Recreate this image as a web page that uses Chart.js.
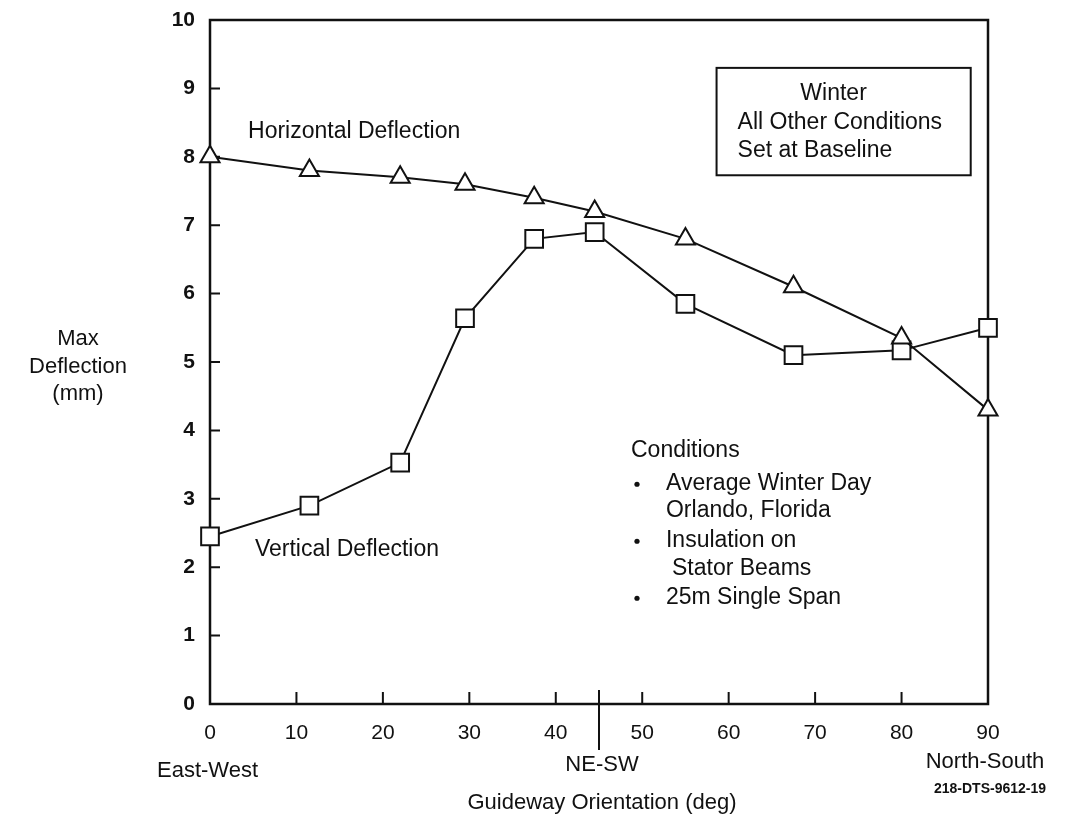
<!DOCTYPE html>
<html>
<head>
<meta charset="utf-8">
<script src="https://cdn.jsdelivr.net/npm/chart.js@4.4.1/dist/chart.umd.min.js"></script>
<style>
  html, body { margin: 0; padding: 0; background: #fff; }
  #wrap { width: 1070px; height: 817px; position: relative; }
</style>
</head>
<body>
<div id="wrap"><canvas id="c" width="1070" height="817"></canvas></div>
<script>
// ---- data ----
const orientationDeg = [0, 11.5, 22, 29.5, 37.5, 44.5, 55, 67.5, 80, 90];
const horizontalDeflection = [8.0, 7.8, 7.7, 7.6, 7.4, 7.2, 6.8, 6.1, 5.35, 4.3];
const verticalDeflection = [2.45, 2.9, 3.53, 5.64, 6.8, 6.9, 5.85, 5.1, 5.17, 5.5];
const xTicks = [0, 10, 20, 30, 40, 50, 60, 70, 80, 90];
const yTicks = [0, 1, 2, 3, 4, 5, 6, 7, 8, 9, 10];
const seriesLabels = ['Horizontal Deflection', 'Vertical Deflection'];
const boxLines = ['Winter', 'All Other Conditions', 'Set at Baseline'];
const conditionLines = ['Average Winter Day', 'Orlando, Florida', 'Insulation on', 'Stator Beams', '25m Single Span'];
const yTitleLines = ['Max', 'Deflection', '(mm)'];
const xTitle = 'Guideway Orientation (deg)';
const xDirLabels = ['East-West', 'NE-SW', 'North-South'];
const figId = '218-DTS-9612-19';

const FONT = '"Liberation Sans", Arial, Helvetica, sans-serif';
const INK = '#111';

const toXY = (xs, ys) => xs.map((x, i) => ({ x: x, y: ys[i] }));

const decorPlugin = {
  id: 'decor',
  beforeDatasetsDraw(chart) {
    const ctx = chart.ctx, a = chart.chartArea;
    const xs = chart.scales.x, ys = chart.scales.y;
    ctx.save();
    ctx.strokeStyle = INK;
    ctx.lineWidth = 2.5;
    ctx.strokeRect(a.left, a.top, a.right - a.left, a.bottom - a.top);
    // inward ticks
    ctx.lineWidth = 2;
    ctx.beginPath();
    yTicks.forEach(v => {
      if (v === 0 || v === 10) return;
      const py = ys.getPixelForValue(v);
      ctx.moveTo(a.left, py); ctx.lineTo(a.left + 10, py);
    });
    xTicks.forEach(v => {
      if (v === 0 || v === 90) return;
      const px = xs.getPixelForValue(v);
      ctx.moveTo(px, a.bottom); ctx.lineTo(px, a.bottom - 12);
    });
    // NE-SW marker line at 45 deg
    const p45 = xs.getPixelForValue(45);
    ctx.moveTo(p45, a.bottom - 14); ctx.lineTo(p45, a.bottom + 46);
    ctx.stroke();
    ctx.restore();
  },
  afterDraw(chart) {
    const ctx = chart.ctx, a = chart.chartArea;
    const xs = chart.scales.x, ys = chart.scales.y;
    ctx.save();
    ctx.fillStyle = INK;
    ctx.strokeStyle = INK;
    ctx.textBaseline = 'middle';
    ctx.font = '23px ' + FONT;

    // series labels
    ctx.textAlign = 'left';
    ctx.fillText(seriesLabels[0], xs.getPixelForValue(4.4), ys.getPixelForValue(8.37));
    ctx.fillText(seriesLabels[1], xs.getPixelForValue(5.2), ys.getPixelForValue(2.26));

    // boxed note
    const bx0 = xs.getPixelForValue(58.6), bx1 = xs.getPixelForValue(88.0);
    const by0 = ys.getPixelForValue(9.3), by1 = ys.getPixelForValue(7.73);
    ctx.lineWidth = 2;
    ctx.strokeRect(bx0, by0, bx1 - bx0, by1 - by0);
    ctx.textAlign = 'center';
    ctx.fillText(boxLines[0], bx0 + 117, by0 + 26);
    ctx.textAlign = 'left';
    ctx.fillText(boxLines[1], bx0 + 21, by0 + 55);
    ctx.fillText(boxLines[2], bx0 + 21, by0 + 83);

    // conditions block
    const cx = xs.getPixelForValue(48.7);
    const cy = ys.getPixelForValue(3.71);
    ctx.fillText('Conditions', cx, cy);
    const lineY = [33, 60, 90, 118, 147];
    const lineX = [35, 35, 35, 41, 35];
    [0, 2, 4].forEach(i => {
      ctx.beginPath();
      ctx.arc(cx + 6, cy + lineY[i] + 1, 2.6, 0, Math.PI * 2);
      ctx.fill();
    });
    conditionLines.forEach((t, i) => ctx.fillText(t, cx + lineX[i], cy + lineY[i]));

    // y title
    ctx.textAlign = 'center';
    ctx.font = '22px ' + FONT;
    yTitleLines.forEach((t, i) => ctx.fillText(t, 78, 339 + i * 27.5));

    // x direction labels and title
    ctx.textAlign = 'left';
    ctx.fillText(xDirLabels[0], 157, a.bottom + 67);
    ctx.textAlign = 'center';
    ctx.fillText(xDirLabels[1], xs.getPixelForValue(45) + 3, a.bottom + 61);
    ctx.fillText(xDirLabels[2], xs.getPixelForValue(90) - 3, a.bottom + 58);
    ctx.fillText(xTitle, xs.getPixelForValue(45) + 3, a.bottom + 99);
    ctx.font = 'bold 14px ' + FONT;
    ctx.fillText(figId, xs.getPixelForValue(90) + 2, a.bottom + 85);
    ctx.restore();
  }
};

new Chart(document.getElementById('c'), {
  type: 'line',
  data: {
    datasets: [
      {
        label: seriesLabels[0],
        data: toXY(orientationDeg, horizontalDeflection),
        borderColor: INK,
        borderWidth: 2,
        backgroundColor: '#fff',
        pointStyle: 'triangle',
        pointRadius: 11,
        pointBorderWidth: 2,
        pointBackgroundColor: '#fff',
        pointBorderColor: INK,
        tension: 0,
        clip: false
      },
      {
        label: seriesLabels[1],
        data: toXY(orientationDeg, verticalDeflection),
        borderColor: INK,
        borderWidth: 2,
        backgroundColor: '#fff',
        pointStyle: 'rect',
        pointRadius: 12.5,
        pointBorderWidth: 2,
        pointBackgroundColor: '#fff',
        pointBorderColor: INK,
        tension: 0,
        clip: false
      }
    ]
  },
  options: {
    responsive: false,
    animation: false,
    devicePixelRatio: 1,
    layout: { padding: { left: 0, right: 82, top: 20, bottom: 0 } },
    plugins: {
      legend: { display: false },
      tooltip: { enabled: false },
      title: { display: false }
    },
    scales: {
      x: {
        type: 'linear',
        min: 0, max: 90,
        afterFit(s) { s.height = 113; s.paddingLeft = 0; s.paddingRight = 0; },
        afterBuildTicks(s) { s.ticks = xTicks.map(v => ({ value: v })); },
        grid: { display: false, drawTicks: false },
        border: { display: false },
        ticks: { padding: 17, color: INK, font: { family: FONT, size: 21 }, maxRotation: 0, autoSkip: false }
      },
      y: {
        type: 'linear',
        min: 0, max: 10,
        afterFit(s) { s.width = 210; s.paddingTop = 0; s.paddingBottom = 0; },
        afterBuildTicks(s) { s.ticks = yTicks.map(v => ({ value: v })); },
        grid: { display: false, drawTicks: false },
        border: { display: false },
        ticks: { padding: 15, color: INK, font: { family: FONT, size: 21, weight: 'bold' }, autoSkip: false }
      }
    }
  },
  plugins: [decorPlugin]
});
</script>
</body>
</html>
